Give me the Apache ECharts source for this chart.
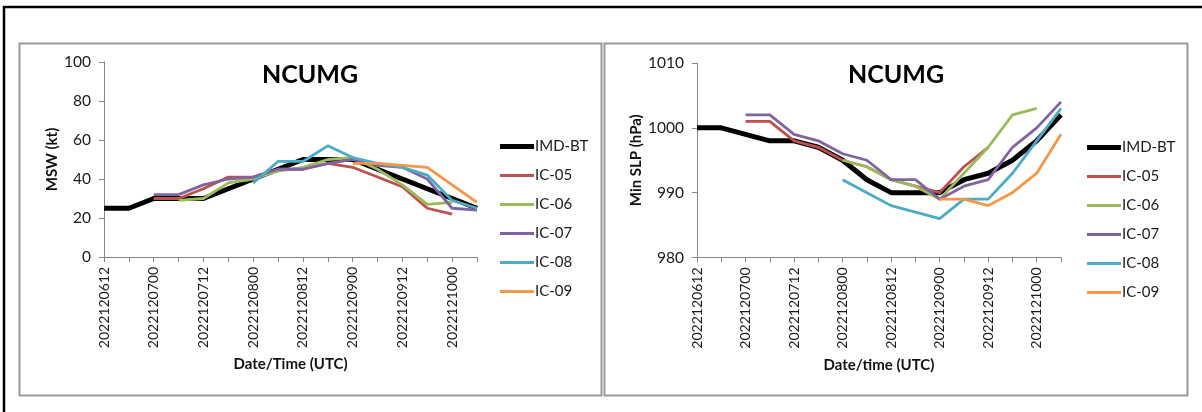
<!DOCTYPE html>
<html>
<head>
<meta charset="utf-8">
<script src="https://cdn.jsdelivr.net/npm/echarts@6/dist/echarts.min.js"></script>
<style>
  html, body { margin: 0; padding: 0; background: #fff; }
  #chart { width: 1202px; height: 412px; }
</style>
</head>
<body>
<div id="chart"></div>
<script>
// categories (yyyymmddhh)
const times = [
  "2022120612", "2022120618", "2022120700", "2022120706", "2022120712", "2022120718",
  "2022120800", "2022120806", "2022120812", "2022120818", "2022120900", "2022120906",
  "2022120912", "2022120918", "2022121000", "2022121006"
];
const names = ["IMD-BT", "IC-05", "IC-06", "IC-07", "IC-08", "IC-09"];
const colors = ["#000000", "#C0504D", "#9BBB59", "#8064A2", "#4BACC6", "#F79646"];

// MSW (kt)
const mswBT   = [25, 25, 30, 30, 30, 35, 40, 45, 50, 50, 50, 45, 40, 35, 30, 25];
const mswIC05 = [null, null, 30, 30, 35, 41, 41, 45, 45, 48, 46, 41, 36, 25, 22, null];
const mswIC06 = [null, null, null, 29, 30, 38, 40, 44, 46, 50, 51, 45, 37, 27, 28, null];
const mswIC07 = [null, null, 32, 32, 37, 40, 41, 45, 45, 48, 50, 47, 46, 40, 25, 24];
const mswIC08 = [null, null, null, null, null, null, 38, 49, 49, 57, 51, 48, 46, 42, 29, 25];
const mswIC09 = [null, null, null, null, null, null, null, null, null, null, 48, 48, 47, 46, 37, 28];

// Min SLP (hPa)
const slpBT   = [1000, 1000, 999, 998, 998, 997, 995, 992, 990, 990, 990, 992, 993, 995, 998, 1002];
const slpIC05 = [null, null, 1001, 1001, 998, 997, 995, 994, 992, 991, 990, 994, 997, null, null, null];
const slpIC06 = [null, null, null, null, null, null, 995, 994, 992, 991, 989, 993, 997, 1002, 1003, null];
const slpIC07 = [null, null, 1002, 1002, 999, 998, 996, 995, 992, 992, 989, 991, 992, 997, 1000, 1004];
const slpIC08 = [null, null, null, null, null, null, 992, 990, 988, 987, 986, 989, 989, 993, 998, 1003];
const slpIC09 = [null, null, null, null, null, null, null, null, null, null, 989, 989, 988, 990, 993, 999];

const mswTicks = [0, 100, 20];
const slpTicks = [980, 1010, 10];

const font = "Lato, 'Open Sans', sans-serif";
const chart = echarts.init(document.getElementById("chart"));

function mkX(idx) {
  return {
    type: "category", gridIndex: idx, data: times, boundaryGap: false,
    name: idx === 0 ? "Date/Time (UTC)" : "Date/time (UTC)",
    nameLocation: "middle", nameGap: 100,
    nameTextStyle: { fontFamily: font, fontWeight: "bold", fontSize: 15, color: "#111" },
    axisLine: { lineStyle: { color: "#868686", width: 1 } },
    axisTick: { show: true, interval: 0, length: 5, lineStyle: { color: "#868686" } },
    axisLabel: { interval: 1, rotate: 90, margin: 10, fontFamily: font, fontSize: 14, color: "#1a1a1a" },
    splitLine: { show: false }
  };
}
function mkY(idx, t, name, gap) {
  return {
    type: "value", gridIndex: idx, min: t[0], max: t[1], interval: t[2],
    name: name, nameLocation: "middle", nameGap: gap,
    nameTextStyle: { fontFamily: font, fontWeight: "bold", fontSize: 15, color: "#111" },
    axisLine: { show: true, lineStyle: { color: "#868686", width: 1 } },
    axisTick: { show: true, length: 5, lineStyle: { color: "#868686" } },
    axisLabel: { margin: 13, fontFamily: font, fontSize: 15.5, color: "#1a1a1a", formatter: (v) => String(v) },
    splitLine: { show: false }
  };
}
function mkSeries(idx, arrs) {
  return arrs.map((d, i) => ({
    name: names[i], type: "line", xAxisIndex: idx, yAxisIndex: idx, data: d,
    showSymbol: false, symbol: "none", connectNulls: false, z: i === 0 ? 3 : 4,
    lineStyle: { color: colors[i], width: i === 0 ? 5 : 2.8, join: "round" },
    itemStyle: { color: colors[i] }
  }));
}
function mkLegend(left, top) {
  return {
    orient: "vertical", left: left, top: top, itemWidth: 34, itemHeight: 14, itemGap: 14,
    textStyle: { fontFamily: font, fontSize: 15, color: "#1a1a1a", padding: [0, 0, 0, -4] },
    data: names.map((n, i) => ({
      name: n,
      icon: i === 0 ? "path://M0,0 H34 V5 H0 Z" : "path://M0,0 H34 V3 H0 Z"
    }))
  };
}

chart.setOption({
  animation: false,
  backgroundColor: "#fff",
  grid: [
    { left: 104, top: 62, width: 373, height: 195 },
    { left: 697, top: 63, width: 364, height: 194.5 }
  ],
  xAxis: [mkX(0), mkX(1)],
  yAxis: [mkY(0, mswTicks, "MSW (kt)", 40), mkY(1, slpTicks, "Min SLP (hPa)", 53)],
  legend: [mkLegend(495, 134), mkLegend(1082, 135)],
  series: mkSeries(0, [mswBT, mswIC05, mswIC06, mswIC07, mswIC08, mswIC09])
    .concat(mkSeries(1, [slpBT, slpIC05, slpIC06, slpIC07, slpIC08, slpIC09])),
  graphic: [
    { type: "line", shape: { x1: 3, y1: 7, x2: 1202, y2: 7 }, style: { stroke: "#000", lineWidth: 2.5 } },
    { type: "line", shape: { x1: 4, y1: 6, x2: 4, y2: 412 }, style: { stroke: "#000", lineWidth: 2.5 } },
    { type: "rect", shape: { x: 19.5, y: 43.5, width: 582, height: 352 }, style: { fill: null, stroke: "#9a9a9a", lineWidth: 2 } },
    { type: "rect", shape: { x: 604.5, y: 43.5, width: 583, height: 352 }, style: { fill: null, stroke: "#9a9a9a", lineWidth: 2 } },
    { type: "text", x: 310, y: 62, style: { text: "NCUMG", align: "center", fontFamily: font, fontWeight: "bold", fontSize: 25, fill: "#000" } },
    { type: "text", x: 896, y: 62, style: { text: "NCUMG", align: "center", fontFamily: font, fontWeight: "bold", fontSize: 25, fill: "#000" } }
  ]
});
</script>
</body>
</html>
